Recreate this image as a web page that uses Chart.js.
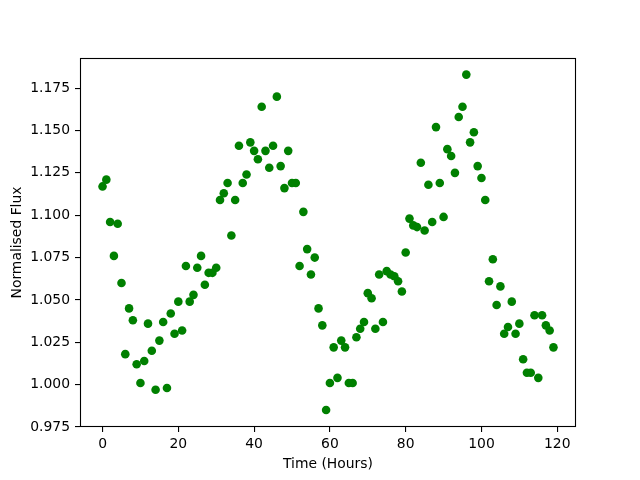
<!DOCTYPE html>
<html>
<head>
<meta charset="utf-8">
<script src="https://cdn.jsdelivr.net/npm/chart.js@4"></script>
<style>
  body { margin: 0; background: #fff; }
</style>
</head>
<body>
<canvas id="myChart" width="640" height="480"></canvas>
<script>
// данные: время в часах и нормированный поток
const hours = [
  0, 1, 2, 3, 4, 5, 6, 7, 8, 9, 10, 11, 12, 13, 14, 15, 16, 17, 18, 19,
  20, 21, 22, 23, 24, 25, 26, 27, 28, 29, 30, 31, 32, 33, 34, 35, 36, 37, 38, 39,
  40, 41, 42, 43, 44, 45, 46, 47, 48, 49, 50, 51, 52, 53, 54, 55, 56, 57, 58, 59,
  60, 61, 62, 63, 64, 65, 66, 67, 68, 69, 70, 71, 72, 73, 74, 75, 76, 77, 78, 79,
  80, 81, 82, 83, 84, 85, 86, 87, 88, 89, 90, 91, 92, 93, 94, 95, 96, 97, 98, 99,
  100, 101, 102, 103, 104, 105, 106, 107, 108, 109, 110, 111, 112, 113, 114, 115, 116, 117, 118, 119,
];
const flux = [
  1.117, 1.121, 1.096, 1.076, 1.095, 1.060, 1.018, 1.045, 1.038, 1.012,
  1.001, 1.014, 1.036, 1.020, 0.997, 1.026, 1.037, 0.998, 1.042, 1.030,
  1.049, 1.032, 1.070, 1.049, 1.053, 1.069, 1.076, 1.059, 1.066, 1.066,
  1.069, 1.109, 1.113, 1.119, 1.088, 1.109, 1.141, 1.119, 1.124, 1.143,
  1.138, 1.133, 1.164, 1.138, 1.128, 1.141, 1.170, 1.129, 1.116, 1.138,
  1.119, 1.119, 1.070, 1.102, 1.080, 1.065, 1.075, 1.045, 1.035, 0.985,
  1.001, 1.022, 1.004, 1.026, 1.022, 1.001, 1.001, 1.028, 1.033, 1.037,
  1.054, 1.051, 1.033, 1.065, 1.037, 1.067, 1.065, 1.064, 1.061, 1.055,
  1.078, 1.098, 1.094, 1.093, 1.131, 1.091, 1.118, 1.096, 1.152, 1.119,
  1.099, 1.139, 1.135, 1.125, 1.158, 1.164, 1.183, 1.143, 1.149, 1.129,
  1.122, 1.109, 1.061, 1.074, 1.047, 1.058, 1.030, 1.034, 1.049, 1.030,
  1.036, 1.015, 1.007, 1.007, 1.041, 1.004, 1.041, 1.035, 1.032, 1.022,
];
const xTicks = [0, 20, 40, 60, 80, 100, 120];
const yTicks = [0.975, 1.0, 1.025, 1.05, 1.075, 1.1, 1.125, 1.15, 1.175];

const font = { family: "DejaVu Sans", size: 13.9 };

// рамка вокруг области графика, как в matplotlib
const frame = {
  id: "frame",
  afterDraw(chart) {
    const { ctx, chartArea: a } = chart;
    ctx.save();
    ctx.strokeStyle = "#000";
    ctx.lineWidth = 1.1;
    ctx.strokeRect(a.left + 0.5, a.top + 0.5, a.right - a.left - 1, a.bottom - a.top - 1);
    ctx.restore();
  },
};

const ctx = document.getElementById("myChart");

new Chart(ctx, {
  type: "scatter",
  data: {
    datasets: [
      {
        data: hours.map((h, i) => ({ x: h, y: flux[i] })),
        backgroundColor: "#008000",
        borderWidth: 0,
        pointRadius: 4.3,
      },
    ],
  },
  options: {
    responsive: false,
    animation: false,
    layout: { padding: { left: 0, right: 64, top: 58, bottom: 0 } },
    plugins: { legend: { display: false }, tooltip: { enabled: false } },
    scales: {
      x: {
        type: "linear",
        min: -5.95,
        max: 124.95,
        afterBuildTicks: (axis) => {
          axis.ticks = xTicks.map((v) => ({ value: v }));
        },
        afterFit: (axis) => {
          axis.height = 53;
        },
        border: { display: false },
        grid: { drawOnChartArea: false, drawTicks: true, tickLength: 5, color: "#000", lineWidth: 1.1 },
        ticks: { color: "#000", font: font, padding: 4, maxRotation: 0 },
        title: { display: true, text: "Time (Hours)", color: "#000", font: font, padding: { top: 0, bottom: 7 } },
      },
      y: {
        type: "linear",
        min: 0.975,
        max: 1.1928,
        afterBuildTicks: (axis) => {
          axis.ticks = yTicks.map((v) => ({ value: v }));
        },
        afterFit: (axis) => {
          axis.width = 80;
        },
        border: { display: false },
        grid: { drawOnChartArea: false, drawTicks: true, tickLength: 5, color: "#000", lineWidth: 1.1 },
        ticks: { color: "#000", font: font, padding: 5, callback: (v) => v.toFixed(3) },
        title: { display: true, text: "Normalised Flux", color: "#000", font: font, padding: { top: 9, bottom: 0 } },
      },
    },
  },
  plugins: [frame],
});
</script>
</body>
</html>
